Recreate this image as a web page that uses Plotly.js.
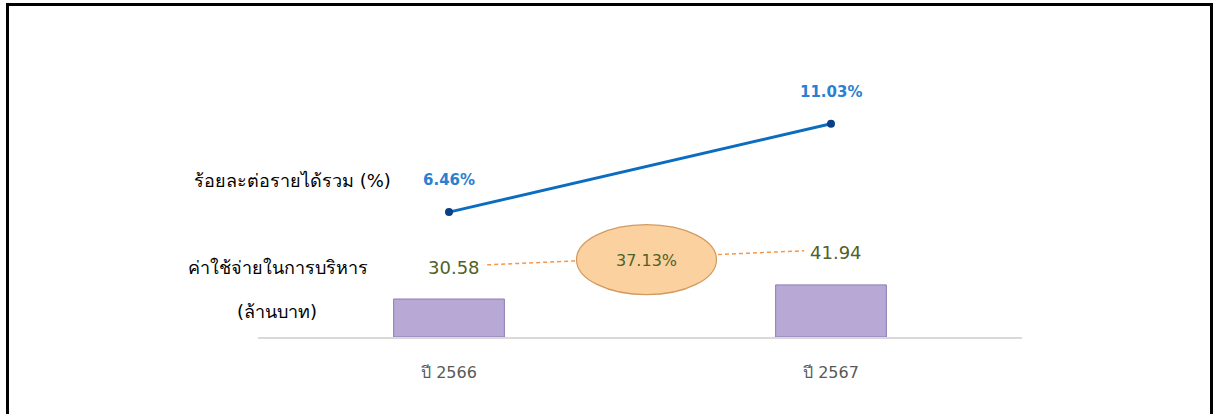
<!DOCTYPE html>
<html>
<head>
<meta charset="utf-8">
<script src="https://cdn.plot.ly/plotly-3.0.1.min.js"></script>
<style>
  html, body { margin:0; padding:0; width:1216px; height:414px; overflow:hidden; background:#fff; }
  #frame { position:absolute; left:6px; top:3px; width:1201px; height:420px; border:3px solid #000; box-sizing:content-box; pointer-events:none; }
  #chart { position:absolute; left:0; top:0; width:1216px; height:414px; }
</style>
</head>
<body>
<div id="chart"></div>
<div id="frame"></div>
<script>
// ---- data ----
const categories = ["ปี 2566", "ปี 2567"];
const expenseValues = [30.58, 41.94];          // ค่าใช้จ่ายในการบริหาร (ล้านบาท)
const expenseLabels = ["30.58", "41.94"];
const ratioValues = [6.46, 11.03];             // ร้อยละต่อรายได้รวม (%)
const ratioLabels = ["6.46%", "11.03%"];
const growthLabel = "37.13%";
const rowLabels = ["ร้อยละต่อรายได้รวม (%)", "ค่าใช้จ่ายในการบริหาร", "(ล้านบาท)"];

const FONT = "'DejaVu Sans', Tahoma, 'Liberation Sans', 'Noto Sans', sans-serif";
const green = "#4f6228";
const blue = "#2b7fd0";

const traces = [
  {
    type: "bar", x: categories, y: expenseValues, width: 0.29,
    marker: { color: "#b7a8d6", line: { color: "#8e7db0", width: 1 } },
    hoverinfo: "skip", showlegend: false
  },
  {
    type: "scatter", mode: "lines+markers", x: categories, y: ratioValues, yaxis: "y2",
    line: { color: "#0b6cc0", width: 3 },
    marker: { color: "#0a3f86", size: 8 },
    hoverinfo: "skip", showlegend: false
  }
];

const annotations = [];
ratioValues.forEach((v, i) => annotations.push({
  x: categories[i], y: v, xref: "x", yref: "y2", text: "<b>" + ratioLabels[i] + "</b>",
  showarrow: false, yshift: 32, font: { family: FONT, size: 15, color: blue }
}));
expenseValues.forEach((v, i) => annotations.push({
  x: categories[i], y: v, xref: "x", yref: "y", text: expenseLabels[i],
  showarrow: false, yshift: 32, xshift: 5, font: { family: FONT, size: 18, color: green }
}));
annotations.push({
  x: 0.517, y: (expenseValues[0] + expenseValues[1]) / 2 + 25, xref: "x", yref: "y",
  text: growthLabel, showarrow: false, font: { family: FONT, size: 16, color: green }
});
annotations.push({ x: -0.5, xref: "x", y: ratioValues[0], yref: "y2", yshift: 32, xshift: -66, xanchor: "left",
  text: rowLabels[0], showarrow: false, font: { family: FONT, size: 18, color: "#000" } });
annotations.push({ x: -0.5, xref: "x", y: expenseValues[0], yref: "y", yshift: 32, xshift: -72, xanchor: "left",
  text: rowLabels[1], showarrow: false, font: { family: FONT, size: 18, color: "#000" } });
annotations.push({ x: -0.5, xref: "x", y: expenseValues[0], yref: "y", yshift: -12, xshift: -23, xanchor: "left",
  text: rowLabels[2], showarrow: false, font: { family: FONT, size: 18, color: "#000" } });

const off = 27.5;
const shapes = [
  { type: "line", xref: "x", yref: "y", x0: 0.10, x1: 0.93,
    y0: expenseValues[0] + off, y1: expenseValues[1] + off,
    line: { color: "#f79646", width: 1.5, dash: "4px,3px" }, layer: "below" },
  { type: "circle", xref: "x", yref: "y", xsizemode: "pixel", ysizemode: "pixel",
    xanchor: 0.517, yanchor: (expenseValues[0] + expenseValues[1]) / 2 + 26,
    x0: -70, x1: 70, y0: -35, y1: 35,
    fillcolor: "#fbd1a0", line: { color: "#d39a60", width: 1.2 } }
];

const layout = {
  width: 1216, height: 414,
  margin: { l: 258, r: 194, t: 40, b: 77 },
  paper_bgcolor: "rgba(0,0,0,0)", plot_bgcolor: "rgba(0,0,0,0)",
  font: { family: FONT },
  xaxis: {
    type: "category", range: [-0.5, 1.5], showline: true, linecolor: "#d9d9d9", linewidth: 1.5,
    showgrid: false, ticks: "", ticklabelstandoff: 20,
    tickfont: { family: FONT, size: 16, color: "#595959" }, zeroline: false, fixedrange: true
  },
  yaxis: { range: [0, 239], visible: false, showgrid: false, zeroline: false, fixedrange: true },
  yaxis2: { range: [0, 15.36], overlaying: "y", visible: false, showgrid: false, zeroline: false, fixedrange: true },
  annotations: annotations,
  shapes: shapes,
  showlegend: false
};

Plotly.newPlot("chart", traces, layout, { displayModeBar: false, staticPlot: true });
</script>
</body>
</html>
